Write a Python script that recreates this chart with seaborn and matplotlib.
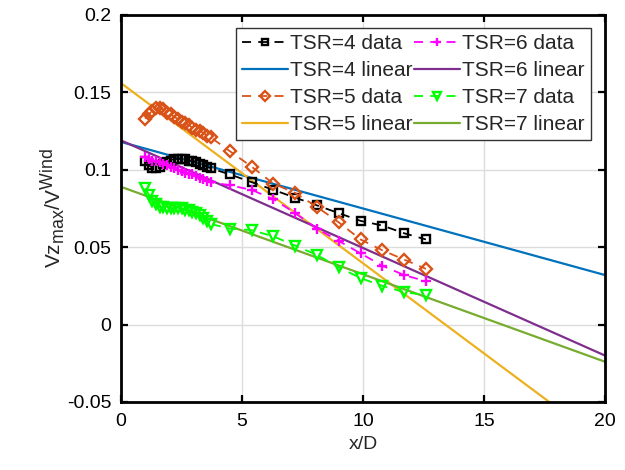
import numpy as np
import pandas as pd
import seaborn as sns
import matplotlib
matplotlib.use("Agg")
import matplotlib.pyplot as plt
from matplotlib.ticker import FuncFormatter
try:
    import matplotlib._mathtext as _mt
    _mt.SHRINK_FACTOR = 0.85
except Exception:
    pass

# ---- data ----
x_pos = [1.0, 1.15, 1.3, 1.45, 1.6, 1.75, 1.9, 2.05, 2.2, 2.35, 2.5, 2.65, 2.8, 2.95,
         3.1, 3.25, 3.4, 3.55, 3.7, 4.5, 5.4, 6.3, 7.2, 8.1, 9.0, 9.9, 10.8, 11.7, 12.6]

tsr4_data = [0.106, 0.103, 0.101, 0.101, 0.102, 0.104, 0.105, 0.106, 0.107, 0.107, 0.107,
             0.107, 0.106, 0.106, 0.105, 0.104, 0.103, 0.102, 0.101,
             0.097, 0.092, 0.087, 0.082, 0.077, 0.072, 0.067, 0.064, 0.059, 0.055]
tsr5_data = [0.133, 0.136, 0.138, 0.140, 0.140, 0.139, 0.137, 0.136, 0.134, 0.133, 0.131,
             0.130, 0.129, 0.127, 0.126, 0.125, 0.124, 0.122, 0.121,
             0.112, 0.102, 0.091, 0.085, 0.076, 0.066, 0.055, 0.048, 0.042, 0.036]
tsr6_data = [0.108, 0.107, 0.106, 0.106, 0.105, 0.104, 0.103, 0.102, 0.101, 0.100, 0.099,
             0.098, 0.097, 0.097, 0.096, 0.095, 0.094, 0.093, 0.092,
             0.090, 0.087, 0.081, 0.072, 0.062, 0.054, 0.046, 0.038, 0.032, 0.028]
tsr7_data = [0.088, 0.084, 0.080, 0.078, 0.076, 0.076, 0.075, 0.075, 0.075, 0.075, 0.075,
             0.074, 0.074, 0.073, 0.072, 0.071, 0.069, 0.067, 0.065,
             0.062, 0.061, 0.057, 0.051, 0.045, 0.037, 0.030, 0.025, 0.021, 0.019]

# linear fits: intercept, slope
fit_intercepts = [0.118, 0.156, 0.119, 0.089]
fit_slopes = [-0.0043, -0.01164, -0.00695, -0.00565]
fit_x = [0, 20]

tsr_values = [4, 5, 6, 7]
x_ticks = [0, 5, 10, 15, 20]
y_ticks = [-0.05, 0, 0.05, 0.1, 0.15, 0.2]

# ---- style ----
sns.set_style("ticks")
plt.rcParams['font.family'] = ['Liberation Sans', 'DejaVu Sans']
plt.rcParams['mathtext.fontset'] = 'custom'
plt.rcParams['mathtext.rm'] = 'Liberation Sans'
plt.rcParams['mathtext.it'] = 'Liberation Sans'

fig = plt.figure(figsize=(6.25, 4.7), dpi=100)
ax = fig.add_axes([0.1936, 0.1447, 0.7744, 0.8234])

data_series = [tsr4_data, tsr5_data, tsr6_data, tsr7_data]
data_colors = ['black', '#D95319', '#FF00FF', '#00FF00']
data_markers = ['s', 'D', '+', 'v']
data_msize = [5.5, 6.5, 7.5, 7.5]
fit_colors = ['#0072BD', '#EDB120', '#7E2F8E', '#77AC30']

handles = {}
for i, t in enumerate(tsr_values):
    df = pd.DataFrame({'x': x_pos, 'y': data_series[i]})
    sns.lineplot(data=df, x='x', y='y', ax=ax, color=data_colors[i],
                 marker=data_markers[i], markersize=data_msize[i],
                 markerfacecolor='none', markeredgecolor=data_colors[i],
                 markeredgewidth=1.7, linestyle='--', linewidth=1.3,
                 dashes=False, label=f'TSR={t} data', sort=False, zorder=3)
    handles[f'd{t}'] = ax.lines[-1]
    fx = np.array(fit_x, dtype=float)
    fy = fit_intercepts[i] + fit_slopes[i] * fx
    dff = pd.DataFrame({'x': fx, 'y': fy})
    sns.lineplot(data=dff, x='x', y='y', ax=ax, color=fit_colors[i],
                 linewidth=1.6, label=f'TSR={t} linear', zorder=2)
    handles[f'l{t}'] = ax.lines[-1]

for t in tsr_values:
    handles[f'd{t}'].set_dashes([5, 4])

ax.set_xlim(0, 20)
ax.set_ylim(-0.05, 0.2)
ax.set_xticks(x_ticks)
ax.set_yticks(y_ticks)
ax.yaxis.set_major_formatter(FuncFormatter(lambda v, p: f'{v:g}'))
ax.grid(True, color='#DCDCDC', linewidth=1.0)
ax.set_axisbelow(True)
ax.tick_params(direction='in', length=5, width=1.6, labelsize=14, top=True, right=True,
               colors='black')
ax.tick_params(axis='x', pad=8)
ax.tick_params(axis='y', pad=7)
for s in ax.spines.values():
    s.set_linewidth(2.0)
    s.set_color('black')
    s.set_visible(True)

ax.set_xlabel('x/D', fontsize=14, labelpad=4)
ax.set_ylabel(r'$\mathregular{Vz_{max}/V^{Wind}}$', fontsize=15, labelpad=0)

order = ['d4', 'l4', 'd5', 'l5', 'd6', 'l6', 'd7', 'l7']
labels = ['TSR=4 data', 'TSR=4 linear', 'TSR=5 data', 'TSR=5 linear',
          'TSR=6 data', 'TSR=6 linear', 'TSR=7 data', 'TSR=7 linear']
leg = ax.legend([handles[k] for k in order], labels, ncol=2, loc='upper right',
                bbox_to_anchor=(0.971, 0.966), borderaxespad=0, fontsize=15,
                frameon=True, fancybox=False, framealpha=1, edgecolor='#333333',
                handlelength=2.2, handletextpad=0.1, columnspacing=0.1,
                labelspacing=0.38, borderpad=0.3, markerscale=0.75)
leg.get_frame().set_linewidth(1.0)

fig.savefig('out.png', dpi=100)
